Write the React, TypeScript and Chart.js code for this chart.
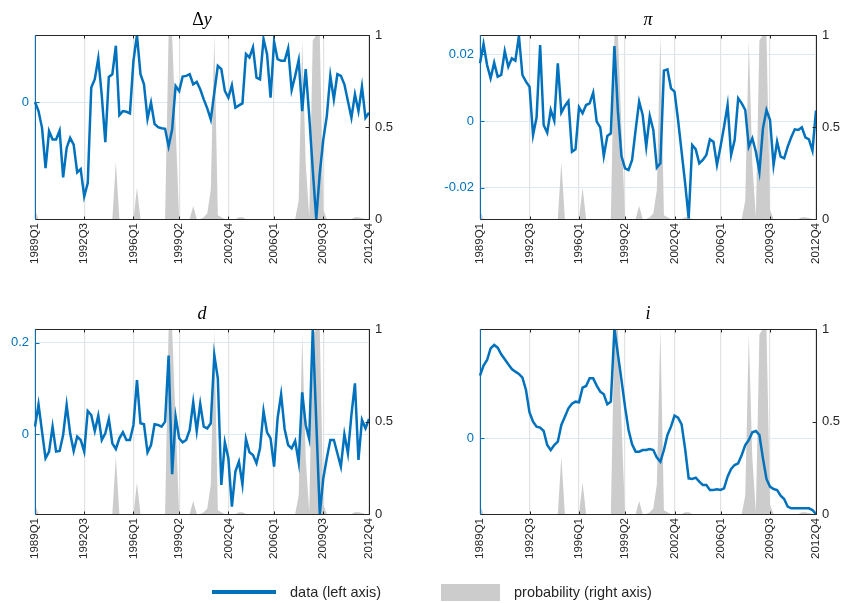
import React, { useEffect, useRef } from "react";
import { Chart, registerables } from "chart.js";
Chart.register(...registerables);

const QUARTERS: string[] = [];
for (let y = 1989; y <= 2012; y++) for (let q = 1; q <= 4; q++) QUARTERS.push(y + "Q" + q);

const X_TICK_LABELS = ["1989Q1", "1992Q3", "1996Q1", "1999Q2", "2002Q4", "2006Q1", "2009Q3", "2012Q4"];

const PROBABILITY = [
  0.05, 0, 0, 0, 0, 0, 0, 0, 0, 0,
  0, 0, 0, 0, 0, 0, 0, 0, 0, 0,
  0, 0, 0, 0.31, 0, 0, 0, 0, 0, 0.17,
  0, 0, 0, 0, 0, 0, 0, 0, 1, 1,
  0.5, 0, 0, 0, 0, 0.07, 0, 0, 0.01, 0.03,
  0.16, 1, 0.02, 0.01, 0, 0, 0, 0, 0.01, 0.01,
  0, 0, 0, 0, 0, 0, 0, 0, 0, 0,
  0, 0, 0, 0, 0, 0.1, 0.97, 0.3, 0.01, 0.97,
  1, 1, 0.05, 0, 0, 0, 0, 0, 0, 0,
  0, 0.01, 0.01, 0.005, 0, 0,
];

const DELTA_Y = [
  0.0, -0.0027, -0.0077, -0.0197, -0.0087, -0.0112, -0.0112, -0.0085, -0.0225, -0.0137,
  -0.0107, -0.0127, -0.021, -0.02, -0.0282, -0.0242, 0.0043, 0.0068, 0.013, 0.0018,
  -0.012, 0.0075, 0.0083, 0.0168, -0.0039, -0.0027, -0.0029, -0.0034, 0.0123, 0.02,
  0.0083, 0.0053, -0.005, -0.0002, -0.0065, -0.0075, -0.0078, -0.008, -0.0132, -0.0082,
  0.0048, 0.0033, 0.0076, 0.0078, 0.0083, 0.0053, 0.006, 0.0038, 0.0008, -0.0019,
  -0.0052, 0.0028, 0.0108, 0.0098, 0.0033, 0.0013, 0.005, -0.0017, -0.001, -0.0004,
  0.0143, 0.0133, 0.0163, 0.0073, 0.0068, 0.0188, 0.0143, 0.0013, 0.018, 0.0128,
  0.0123, 0.0123, 0.016, 0.0036, 0.0078, 0.0125, -0.0027, 0.0098, -0.0042, -0.0202,
  -0.0349, -0.0212, -0.0112, -0.0042, 0.0078, 0.0008, 0.0083, 0.0078, 0.0053, 0.0003,
  -0.0047, 0.0023, -0.0027, 0.0046, -0.0047, -0.0032,
];

const INFLATION = [
  0.0173, 0.0231, 0.0168, 0.0128, 0.0175, 0.0133, 0.0138, 0.021, 0.0163, 0.0188,
  0.0181, 0.0255, 0.0138, 0.0118, 0.0103, -0.0042, 0.0011, 0.0228, -0.0012, -0.0035,
  0.0033, 0.0001, 0.0173, 0.0025, 0.0045, 0.006, -0.0092, -0.0085, 0.0041, 0.0023,
  0.0048, 0.0053, 0.0085, -0.0002, -0.0019, -0.0105, -0.0045, -0.0037, 0.0225, 0.0028,
  -0.0105, -0.0142, -0.0147, -0.0117, -0.0027, 0.0058, 0.0018, -0.0077, 0.0015, -0.0027,
  -0.014, -0.0127, 0.0151, 0.0155, 0.0098, 0.0088, 0.0003, -0.0092, -0.0187, -0.0292,
  -0.0072, -0.0085, -0.0127, -0.0117, -0.0102, -0.0055, -0.0062, -0.0132, -0.0077, -0.0017,
  0.0048, -0.0102, -0.0057, 0.0068, 0.0053, 0.0033, -0.0077, -0.0052, -0.0092, -0.0152,
  -0.0022, 0.0033, 0.0003, -0.0132, -0.0062, -0.0107, -0.0112, -0.0077, -0.0049, -0.0025,
  -0.0027, -0.0019, -0.0049, -0.0055, -0.0089, 0.0031,
];

const D_SERIES = [
  0.0167, 0.0654, 0.0058, -0.0523, -0.0378, 0.0167, -0.0378, -0.0364, -0.0015, 0.064,
  0.0022, -0.0364, -0.0051, -0.0124, -0.0378, 0.0509, 0.0422, 0.0073, 0.0407, -0.0124,
  0.0022, 0.0334, -0.0196, -0.032, -0.0087, 0.0044, -0.0124, -0.0124, 0.0204, 0.1185,
  0.024, 0.0218, -0.0393, -0.0233, 0.0218, 0.0204, 0.0167, 0.0276, 0.1716, -0.0872,
  0.0385, -0.0087, -0.0174, -0.0124, 0.0095, 0.0698, 0.0073, 0.0662, 0.0167, 0.0131,
  0.024, 0.173, 0.1221, -0.1105, -0.0174, -0.0523, -0.1578, -0.0814, -0.0596, -0.1091,
  -0.0102, -0.0393, -0.0451, -0.0632, -0.0305, 0.0509, 0.0044, -0.0087, -0.0705, 0.0349,
  0.0872, 0.0116, -0.0233, -0.0305, -0.0145, -0.0611, 0.0916, 0.0204, -0.0102, 0.2297,
  0.0276, -0.1738, -0.096, -0.0523, -0.0124, -0.0124, -0.0414, -0.0705, 0.0, -0.0414,
  0.0422, 0.1112, -0.056, 0.0313, 0.0131, 0.0334,
];

const INTEREST = [
  0.0188, 0.0218, 0.0235, 0.027, 0.028, 0.0272, 0.0252, 0.0237, 0.0222, 0.0208,
  0.02, 0.0193, 0.0182, 0.0145, 0.0078, 0.005, 0.0035, 0.0032, 0.0022, -0.002,
  -0.0035, -0.002, -0.001, 0.004, 0.0065, 0.009, 0.0104, 0.011, 0.0108, 0.0152,
  0.0157, 0.018, 0.018, 0.0158, 0.014, 0.0132, 0.0102, 0.011, 0.0328, 0.0252,
  0.0175, 0.0095, 0.0025, -0.0018, -0.004, -0.004, -0.0035, -0.0035, -0.0032, -0.0035,
  -0.0058, -0.007, -0.0035, 0.001, 0.0035, 0.0068, 0.0062, 0.0042, -0.0032, -0.012,
  -0.0122, -0.0118, -0.013, -0.014, -0.014, -0.0155, -0.0155, -0.0153, -0.0155, -0.015,
  -0.0115, -0.0092, -0.008, -0.0075, -0.005, -0.002, -0.0005, 0.0018, 0.0022, 0.001,
  -0.006, -0.0122, -0.0145, -0.0152, -0.0155, -0.0172, -0.0182, -0.0205, -0.021, -0.021,
  -0.021, -0.021, -0.021, -0.021, -0.0215, -0.0227,
];

const DY_TICKS = [0];
const DY_TICK_LABELS = ["0"];
const PI_TICKS = [-0.02, 0, 0.02];
const PI_TICK_LABELS = ["-0.02", "0", "0.02"];
const D_TICKS = [0, 0.2];
const D_TICK_LABELS = ["0", "0.2"];
const I_TICKS = [0];
const I_TICK_LABELS = ["0"];
const PROB_TICKS = [0, 0.5, 1];
const PROB_TICK_LABELS = ["0", "0.5", "1"];

const BLUE = "#0072BD";
const AXIS = "#262626";
const FONT = "'Liberation Sans', Arial, Helvetica, sans-serif";
const SERIF = "'Liberation Serif', 'DejaVu Serif', serif";

const framePlugin = {
  id: "frame",
  afterDraw(chart: any) {
    const { ctx, chartArea: a, scales } = chart;
    const L = Math.round(a.left) + 0.5;
    const R = Math.round(a.right) + 0.5;
    const T = Math.round(a.top) + 0.5;
    const B = Math.round(a.bottom) + 0.5;
    ctx.save();
    ctx.lineWidth = 1;
    ctx.strokeStyle = AXIS;
    ctx.beginPath();
    ctx.moveTo(L, T); ctx.lineTo(R, T);
    ctx.moveTo(L, B); ctx.lineTo(R, B);
    ctx.moveTo(R, T); ctx.lineTo(R, B);
    // x ticks inward
    QUARTERS.forEach((q, i) => {
      if (!X_TICK_LABELS.includes(q)) return;
      const x = Math.round(scales.x.getPixelForValue(i)) + 0.5;
      ctx.moveTo(x, B); ctx.lineTo(x, B - 3);
      ctx.moveTo(x, T); ctx.lineTo(x, T + 3);
    });
    // right ticks inward
    PROB_TICKS.forEach((v) => {
      const y = Math.round(scales.yR.getPixelForValue(v)) + 0.5;
      ctx.moveTo(R, y); ctx.lineTo(R - 4, y);
    });
    ctx.stroke();
    ctx.strokeStyle = BLUE;
    ctx.beginPath();
    ctx.moveTo(L, T); ctx.lineTo(L, B);
    (chart.options.leftTicks || []).forEach((v: number) => {
      const y = Math.round(scales.yL.getPixelForValue(v)) + 0.5;
      ctx.moveTo(L, y); ctx.lineTo(L + 4, y);
    });
    ctx.stroke();
    ctx.restore();
  },
};

type PanelProps = {
  left: number; top: number; width: number; height: number;
  leftW: number; rightW: number; padTop: number; xH: number;
  series: number[]; min: number; max: number; ticks: number[]; tickLabels: string[];
};

function Panel(p: PanelProps) {
  const ref = useRef<HTMLCanvasElement>(null);
  useEffect(() => {
    const chart = new Chart(ref.current as HTMLCanvasElement, {
      type: "line",
      data: {
        labels: QUARTERS,
        datasets: [
          {
            data: p.series, borderColor: BLUE, borderWidth: 2.5, pointRadius: 0,
            fill: false, yAxisID: "yL", order: 0, tension: 0,
          },
          {
            data: PROBABILITY, borderWidth: 0, borderColor: "rgba(0,0,0,0)",
            backgroundColor: "#cccccc", fill: "origin", pointRadius: 0, yAxisID: "yR", order: 1,
          },
        ],
      },
      options: {
        animation: false,
        responsive: false,
        leftTicks: p.ticks,
        layout: { padding: { top: p.padTop, left: 0, right: 0, bottom: 0 } },
        plugins: { legend: { display: false }, tooltip: { enabled: false } },
        scales: {
          x: {
            type: "category",
            offset: false,
            border: { display: false },
            grid: {
              color: (c: any) => (X_TICK_LABELS.includes(QUARTERS[c.index]) ? "#e2e2e2" : "rgba(0,0,0,0)"),
              lineWidth: 1.2,
              drawTicks: false,
            },
            ticks: {
              autoSkip: false, minRotation: 90, maxRotation: 90, padding: 4, color: AXIS,
              font: { family: FONT, size: 11.5 },
              callback: (_v: any, i: number) => (X_TICK_LABELS.includes(QUARTERS[i]) ? QUARTERS[i] : ""),
            },
            afterFit: (s: any) => { s.height = p.xH; },
          },
          yL: {
            position: "left", min: p.min, max: p.max,
            border: { display: false },
            grid: { color: "#d9eaf5", lineWidth: 1, drawTicks: false },
            afterBuildTicks: (s: any) => { s.ticks = p.ticks.map((v) => ({ value: v })); },
            ticks: {
              color: BLUE, padding: 6, font: { family: FONT, size: 13 },
              callback: (v: any) => p.tickLabels[p.ticks.indexOf(v)] ?? "",
            },
            afterFit: (s: any) => { s.width = p.leftW; },
          },
          yR: {
            position: "right", min: 0, max: 1,
            border: { display: false },
            grid: { display: false, drawTicks: false },
            afterBuildTicks: (s: any) => { s.ticks = PROB_TICKS.map((v) => ({ value: v })); },
            ticks: {
              color: AXIS, padding: 6, font: { family: FONT, size: 13 },
              callback: (v: any) => PROB_TICK_LABELS[PROB_TICKS.indexOf(v)] ?? "",
            },
            afterFit: (s: any) => { s.width = p.rightW; },
          },
        },
      } as any,
      plugins: [framePlugin],
    });
    return () => chart.destroy();
  }, []);
  return (
    <canvas
      ref={ref}
      width={p.width}
      height={p.height}
      style={{ position: "absolute", left: p.left, top: p.top, width: p.width, height: p.height }}
    />
  );
}

const titleStyle = (cx: number, top: number): React.CSSProperties => ({
  position: "absolute", left: cx - 50, top, width: 100, textAlign: "center",
  fontFamily: SERIF, fontSize: 18, color: "#000", lineHeight: "20px",
});

export default function App() {
  return (
    <div style={{ position: "absolute", left: 0, top: 0, width: 841, height: 603, background: "#fff", overflow: "hidden" }}>
      <Panel left={0} top={0} width={420} height={290} leftW={35} rightW={51} padTop={35} xH={71}
        series={DELTA_Y} min={-0.0349} max={0.02} ticks={DY_TICKS} tickLabels={DY_TICK_LABELS} />
      <Panel left={420} top={0} width={421} height={290} leftW={60} rightW={25} padTop={35} xH={71}
        series={INFLATION} min={-0.0294} max={0.0258} ticks={PI_TICKS} tickLabels={PI_TICK_LABELS} />
      <Panel left={0} top={295} width={420} height={290} leftW={35} rightW={51} padTop={34} xH={71}
        series={D_SERIES} min={-0.1738} max={0.2297} ticks={D_TICKS} tickLabels={D_TICK_LABELS} />
      <Panel left={420} top={295} width={421} height={290} leftW={60} rightW={25} padTop={34} xH={71}
        series={INTEREST} min={-0.0227} max={0.0328} ticks={I_TICKS} tickLabels={I_TICK_LABELS} />

      <div style={titleStyle(202, 9)}><span>Δ</span><i>y</i></div>
      <div style={titleStyle(648, 9)}><i>π</i></div>
      <div style={titleStyle(202, 303)}><i>d</i></div>
      <div style={titleStyle(648, 303)}><i>i</i></div>

      <div style={{ position: "absolute", left: 212, top: 590, width: 64, height: 4, background: BLUE }} />
      <div style={{ position: "absolute", left: 290, top: 583, fontFamily: FONT, fontSize: 14.5, color: AXIS, lineHeight: "18px", whiteSpace: "nowrap" }}>
        data (left axis)
      </div>
      <div style={{ position: "absolute", left: 441, top: 584, width: 59, height: 17, background: "#cccccc" }} />
      <div style={{ position: "absolute", left: 514, top: 583, fontFamily: FONT, fontSize: 14.5, color: AXIS, lineHeight: "18px", whiteSpace: "nowrap" }}>
        probability (right axis)
      </div>
    </div>
  );
}
